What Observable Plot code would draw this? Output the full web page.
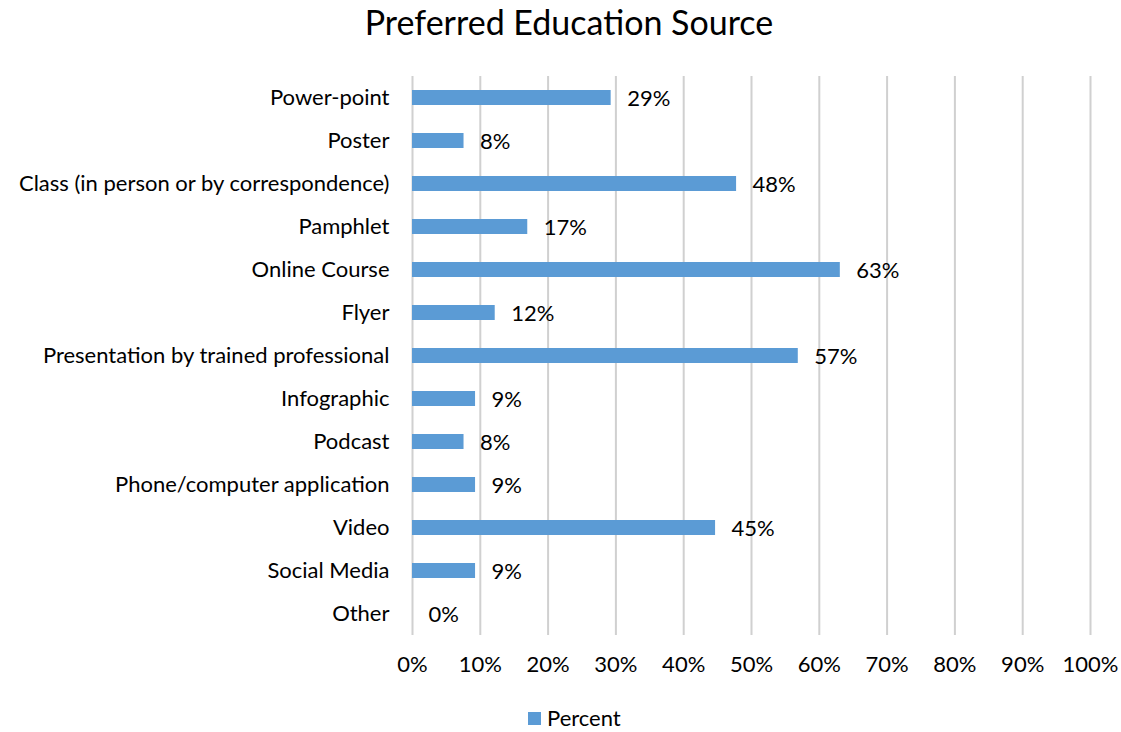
<!DOCTYPE html>
<html>
<head>
<meta charset="utf-8">
<script src="https://cdn.jsdelivr.net/npm/d3@7"></script>
<script src="https://cdn.jsdelivr.net/npm/@observablehq/plot@0.6"></script>
<style>
  html, body { margin: 0; padding: 0; background: #fff; }
  #wrap { position: relative; width: 1121px; height: 732px; font-family: Lato, "Open Sans", sans-serif; color: #000; }
  #title { position: absolute; top: 0px; left: 569px; transform: translateX(-50%); font-size: 34px; line-height: 44px; white-space: nowrap; }
  #chart { position: absolute; top: 0; left: 0; }
  #legend { position: absolute; top: 704px; left: 528px; display: flex; align-items: center; font-size: 22px; line-height: 28px; white-space: nowrap; }
  #legend .sw { width: 13px; height: 13px; background: #5b9bd5; margin-right: 6px; }
</style>
</head>
<body>
<div id="wrap">
  <div id="chart"></div>
  <div id="title">Preferred Education Source</div>
  <div id="legend"><span class="sw"></span><span>Percent</span></div>
</div>
<script>
const categories = [
  "Power-point",
  "Poster",
  "Class (in person or by correspondence)",
  "Pamphlet",
  "Online Course",
  "Flyer",
  "Presentation by trained professional",
  "Infographic",
  "Podcast",
  "Phone/computer application",
  "Video",
  "Social Media",
  "Other"
];
const percents = [29.3, 7.6, 47.8, 17.0, 63.1, 12.2, 56.9, 9.3, 7.6, 9.3, 44.7, 9.3, 0];
const xTicks = [0, 10, 20, 30, 40, 50, 60, 70, 80, 90, 100];
const seriesName = "Percent";

const data = categories.map((c, i) => ({category: c, value: percents[i]}));

const chart = Plot.plot({
  width: 1121,
  height: 690,
  marginLeft: 412,
  marginRight: 31,
  marginTop: 76,
  marginBottom: 55,
  style: {fontFamily: "Lato, 'Open Sans', sans-serif", fontSize: "22px", color: "#000", background: "transparent"},
  x: {domain: [0, 100], ticks: xTicks, tickFormat: d => d + "%", label: null, tickSize: 0, tickPadding: 21},
  y: {domain: categories, paddingInner: 0.65, paddingOuter: 0.325, label: null, tickSize: 0, tickPadding: 23},
  marks: [
    Plot.ruleX(xTicks, {stroke: "#d0d0d0", strokeWidth: 2}),
    Plot.barX(data, {x: "value", y: "category", fill: "#5b9bd5"}),
    Plot.text(data, {x: "value", y: "category", text: d => Math.round(d.value) + "%", textAnchor: "start", dx: 16, dy: 1, fill: "#000", fontSize: 22}),
    Plot.axisX({ticks: xTicks, tickFormat: d => d + "%", tickSize: 0, tickPadding: 21, label: null, fontSize: 22}),
    Plot.axisY({tickSize: 0, tickPadding: 23, label: null, fontSize: 22})
  ]
});
document.getElementById("chart").appendChild(chart);
</script>
</body>
</html>
